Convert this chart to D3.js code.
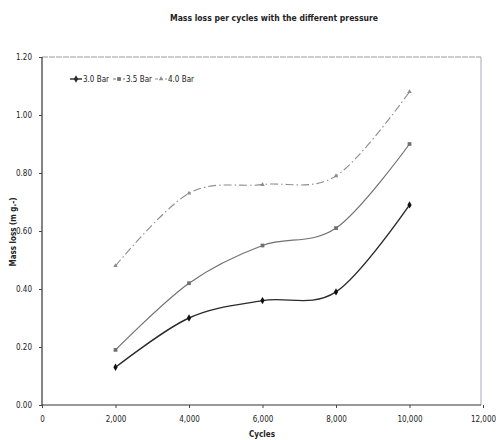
<!DOCTYPE html>
<html>
<head>
<meta charset="utf-8">
<script src="https://cdn.jsdelivr.net/npm/d3@7"></script>
<style>
  html, body { margin: 0; padding: 0; background: #fff; }
  svg { display: block; }
  text { font-family: "DejaVu Sans Condensed", "Liberation Sans Narrow", "Arial Narrow", sans-serif; fill: #222; }
</style>
</head>
<body>
<svg id="chart" width="496" height="440"></svg>
<script>
// Mass loss (mg) measured after each cycle count, one series per pressure
const cycles = [2000, 4000, 6000, 8000, 10000];
const seriesNames = ["3.0 Bar", "3.5 Bar", "4.0 Bar"];
const bar30 = [0.13, 0.30, 0.36, 0.39, 0.69];
const bar35 = [0.19, 0.42, 0.55, 0.61, 0.90];
const bar40 = [0.48, 0.73, 0.76, 0.79, 1.08];
const xTicks = [0, 2000, 4000, 6000, 8000, 10000, 12000];
const yTicks = [0, 0.2, 0.4, 0.6, 0.8, 1.0, 1.2];

const FONT = "'DejaVu Sans Condensed', 'Liberation Sans Narrow', sans-serif";
const svg = d3.select("#chart");
const m = { left: 42, right: 481, top: 57, bottom: 405 };

const x = d3.scaleLinear().domain([0, 12000]).range([m.left, 483]);
const y = d3.scaleLinear().domain([0, 1.2]).range([m.bottom, m.top]);

// Title
svg.append("text")
  .attr("x", 274).attr("y", 21)
  .attr("text-anchor", "middle")
  .attr("textLength", 208).attr("lengthAdjust", "spacingAndGlyphs")
  .style("font-size", "9px").style("font-weight", "bold")
  .text("Mass loss per cycles with the different pressure");

// Plot frame (top and right edges are light)
svg.append("line")
  .attr("x1", m.left).attr("x2", m.right).attr("y1", m.top).attr("y2", m.top)
  .attr("stroke", "#9a9a9a").attr("stroke-width", 1).attr("stroke-dasharray", "6,1");
svg.append("line")
  .attr("x1", m.right).attr("x2", m.right).attr("y1", m.top).attr("y2", m.bottom)
  .attr("stroke", "#a8a8b8").attr("stroke-width", 1);

// Axes
const xAxis = svg.append("g")
  .attr("transform", `translate(0,${m.bottom})`)
  .call(d3.axisBottom(x).tickValues(xTicks).tickSize(3).tickPadding(8)
    .tickFormat(d3.format(",")));
const yAxis = svg.append("g")
  .attr("transform", `translate(${m.left},0)`)
  .call(d3.axisLeft(y).tickValues(yTicks).tickSize(3).tickPadding(7)
    .tickFormat(d3.format(".2f")));
[xAxis, yAxis].forEach(g => {
  g.select(".domain").attr("stroke", "#333").attr("stroke-width", 1.2);
  g.selectAll(".tick line").attr("stroke", "#444");
  g.selectAll("text").style("font-size", "8px").style("font-family", FONT).attr("fill", "#222");
});
xAxis.select(".domain").attr("d", `M${m.left},0H${m.right}`);
yAxis.select(".domain").attr("d", `M0,${m.top}V${m.bottom}`);

// Axis titles
svg.append("text")
  .attr("x", 262).attr("y", 437)
  .attr("text-anchor", "middle")
  .style("font-size", "8px").style("font-weight", "bold")
  .text("Cycles");
svg.append("text")
  .attr("transform", "translate(16,232) rotate(-90)")
  .attr("text-anchor", "middle")
  .style("font-size", "8px").style("font-weight", "bold")
  .text("Mass loss (m g.-)");

// Series styles
const styles = [
  { values: bar30, color: "#2a2a2a", width: 1.4, dash: null, marker: d3.symbolDiamond, size: 16 },
  { values: bar35, color: "#707070", width: 1.2, dash: null, marker: d3.symbolSquare, size: 14 },
  { values: bar40, color: "#8c8c8c", width: 1.1, dash: "8,3,1.5,3", marker: d3.symbolTriangle, size: 9 }
];

const line = d3.line()
  .x(d => x(d[0])).y(d => y(d[1]))
  .curve(d3.curveCardinal.tension(0));

styles.forEach((s, i) => {
  const pts = cycles.map((c, j) => [c, s.values[j]]);
  svg.append("path")
    .datum(pts)
    .attr("d", line)
    .attr("fill", "none")
    .attr("stroke", s.color)
    .attr("stroke-width", s.width)
    .attr("stroke-dasharray", s.dash);
  svg.append("g").selectAll("path")
    .data(pts)
    .join("path")
    .attr("transform", d => `translate(${x(d[0])},${y(d[1])})`)
    .attr("d", d3.symbol().type(s.marker).size(s.size))
    .attr("fill", i === 0 ? "#111" : s.color);
});

// Legend
const legendX = [70, 113, 155];
styles.forEach((s, i) => {
  const g = svg.append("g").attr("transform", `translate(${legendX[i]},79)`);
  g.append("line").attr("x1", 0).attr("x2", 12).attr("y1", 0).attr("y2", 0)
    .attr("stroke", s.color).attr("stroke-width", s.width)
    .attr("stroke-dasharray", i === 0 ? null : "3,2");
  g.append("path").attr("transform", "translate(6,0)")
    .attr("d", d3.symbol().type(s.marker).size(s.size)).attr("fill", s.color);
  g.append("text").attr("x", 13).attr("y", 3)
    .style("font-size", "8px").text(seriesNames[i]);
});
</script>
</body>
</html>
